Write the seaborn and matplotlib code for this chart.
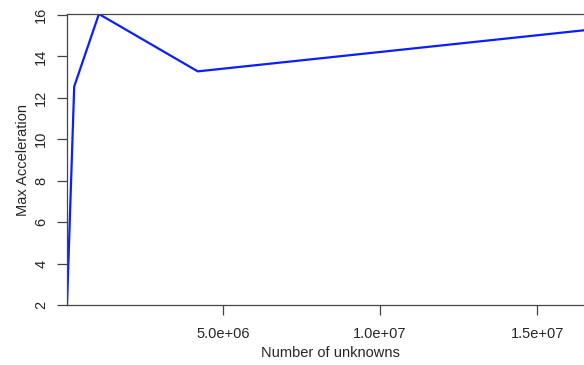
import matplotlib
matplotlib.use("Agg")
import matplotlib.pyplot as plt
import seaborn as sns
import pandas as pd

unknowns = [32768, 262144, 1048576, 4194304, 16777216]
max_accel = [2.0, 12.55, 16.05, 13.28, 15.31]
x_ticks = [5.0e6, 1.0e7, 1.5e7]
y_ticks = [2, 4, 6, 8, 10, 12, 14, 16]

sns.set_style("ticks")
plt.rcParams['font.family'] = ['Liberation Sans', 'DejaVu Sans']

df = pd.DataFrame({"unknowns": unknowns, "accel": max_accel})

W, H = 584, 365
fig = plt.figure(figsize=(W / 100, H / 100), dpi=100)
left, right, top, bottom = 67, 593, 14, 305
ax = fig.add_axes([left / W, (H - bottom) / H, (right - left) / W, (bottom - top) / H])

sns.lineplot(data=df, x="unknowns", y="accel", ax=ax, color="#0a1fff",
             linewidth=1.6, sort=False, estimator=None)

ax.set_xlim(unknowns[0], unknowns[-1])
ax.set_ylim(min(max_accel), max(max_accel))
ax.set_xticks(x_ticks)
ax.set_xticklabels([f"{v:.1e}" for v in x_ticks], fontsize=10.5)
ax.set_yticks(y_ticks)
ax.set_yticklabels([str(v) for v in y_ticks], fontsize=10.5, rotation=90, va="center")
ax.tick_params(axis="both", length=7, width=0.9, color="#444444")
ax.tick_params(axis="x", pad=8.5)
ax.tick_params(axis="y", pad=6.5)
for s in ax.spines.values():
    s.set_visible(True)
    s.set_color("#444444")
    s.set_linewidth(0.9)
ax.spines["right"].set_visible(False)
ax.set_xlabel("Number of unknowns", fontsize=10.5, labelpad=4)
ax.set_ylabel("Max Acceleration", fontsize=10.5, labelpad=3)

fig.savefig("out.png", dpi=100)
